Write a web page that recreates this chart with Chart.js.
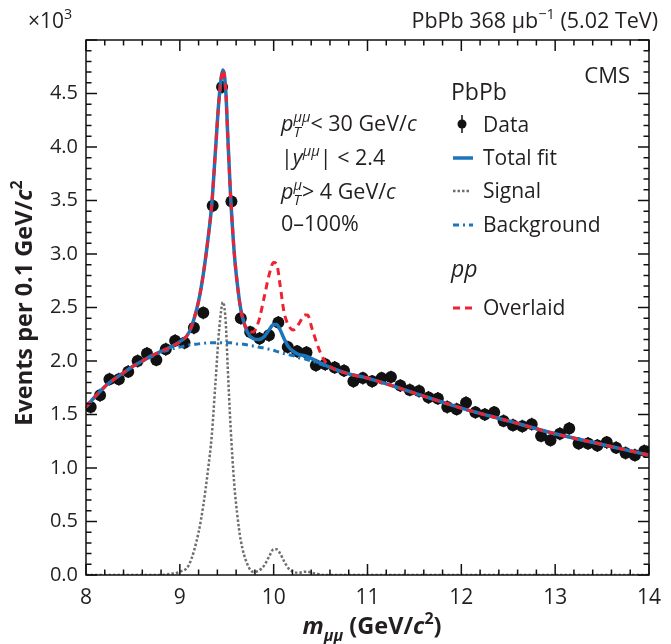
<!DOCTYPE html>
<html>
<head>
<meta charset="utf-8">
<script src="https://cdn.jsdelivr.net/npm/chart.js@4.4.0/dist/chart.umd.min.js"></script>
<style>
  html, body { margin: 0; padding: 0; background: #fff; }
</style>
</head>
<body>
<canvas id="massChart" width="671" height="644"></canvas>
<script>
(function() {

    'use strict';

    // dimuon invariant mass, bin centres (GeV/c^2), 0.1 GeV bins
    var binCenters = [8.05, 8.15, 8.25, 8.35, 8.45, 8.55, 8.65, 8.75, 8.85, 8.95,
        9.05, 9.15, 9.25, 9.35, 9.45, 9.55, 9.65, 9.75, 9.85, 9.95,
        10.05, 10.15, 10.25, 10.35, 10.45, 10.55, 10.65, 10.75, 10.85, 10.95,
        11.05, 11.15, 11.25, 11.35, 11.45, 11.55, 11.65, 11.75, 11.85, 11.95,
        12.05, 12.15, 12.25, 12.35, 12.45, 12.55, 12.65, 12.75, 12.85, 12.95,
        13.05, 13.15, 13.25, 13.35, 13.45, 13.55, 13.65, 13.75, 13.85, 13.95];

    // events per bin (x10^3)
    var eventsData = [1.57, 1.68, 1.83, 1.83, 1.90, 2.00, 2.07, 2.01, 2.11, 2.19,
        2.17, 2.31, 2.45, 3.45, 4.56, 3.49, 2.40, 2.27, 2.21, 2.24,
        2.36, 2.13, 2.09, 2.08, 1.96, 1.97, 1.94, 1.91, 1.81, 1.84,
        1.81, 1.84, 1.85, 1.77, 1.73, 1.72, 1.66, 1.65, 1.57, 1.55,
        1.61, 1.52, 1.50, 1.52, 1.44, 1.40, 1.39, 1.41, 1.30, 1.26,
        1.32, 1.37, 1.23, 1.23, 1.21, 1.24, 1.19, 1.14, 1.12, 1.16];
    var errorHalf = 0.06;
    var binHalf = 0.055;

    // fit curves sampled along mass
    var curveMass = [8.0, 8.1, 8.2, 8.3, 8.4, 8.5, 8.6, 8.7, 8.8, 8.9,
        9.0, 9.1, 9.2, 9.25, 9.3, 9.34, 9.38, 9.42, 9.46, 9.49,
        9.51, 9.54, 9.58, 9.61, 9.65, 9.72, 9.78, 9.84, 9.9, 9.95,
        10.0, 10.03, 10.07, 10.11, 10.16, 10.21, 10.27, 10.33, 10.36, 10.41,
        10.47, 10.53, 10.6, 10.8, 11.0, 11.5, 12.0, 12.5, 13.0, 13.5, 14.0];

    var totalFit = [1.57, 1.67, 1.76, 1.83, 1.89, 1.95, 2.00, 2.05, 2.09, 2.13,
        2.18, 2.27, 2.56, 2.81, 3.14, 3.46, 3.97, 4.47, 4.72, 4.52,
        4.12, 3.56, 3.01, 2.74, 2.48, 2.27, 2.21, 2.20, 2.23, 2.29,
        2.34, 2.34, 2.29, 2.21, 2.13, 2.09, 2.06, 2.05, 2.04, 2.02,
        1.99, 1.97, 1.94, 1.88, 1.84, 1.70, 1.56, 1.44, 1.32, 1.22, 1.12];

    var signalFit = [0, 0, 0, 0, 0, 0, 0, 0, 0, 0.01,
        0.03, 0.10, 0.40, 0.65, 0.98, 1.30, 1.80, 2.30, 2.55, 2.35,
        1.95, 1.40, 0.85, 0.58, 0.32, 0.10, 0.03, 0.04, 0.09, 0.17,
        0.24, 0.24, 0.20, 0.13, 0.06, 0.03, 0.02, 0.03, 0.03, 0.02,
        0.01, 0, 0, 0, 0, 0, 0, 0, 0, 0, 0];

    var backgroundFit = [1.57, 1.67, 1.76, 1.83, 1.89, 1.95, 2.00, 2.04, 2.08, 2.11,
        2.13, 2.15, 2.16, 2.165, 2.17, 2.17, 2.17, 2.17, 2.17, 2.17,
        2.17, 2.17, 2.165, 2.16, 2.16, 2.15, 2.14, 2.13, 2.12, 2.11,
        2.10, 2.09, 2.08, 2.07, 2.06, 2.05, 2.03, 2.02, 2.01, 2.00,
        1.98, 1.96, 1.94, 1.88, 1.84, 1.70, 1.56, 1.44, 1.32, 1.22, 1.12];

    var overlaidFit = [1.57, 1.67, 1.76, 1.83, 1.89, 1.95, 2.00, 2.05, 2.09, 2.13,
        2.18, 2.27, 2.56, 2.81, 3.14, 3.46, 3.97, 4.47, 4.72, 4.52,
        4.12, 3.56, 3.01, 2.74, 2.48, 2.29, 2.27, 2.37, 2.60, 2.80,
        2.92, 2.91, 2.70, 2.46, 2.33, 2.29, 2.35, 2.43, 2.43, 2.30,
        2.14, 2.02, 1.95, 1.88, 1.84, 1.70, 1.56, 1.44, 1.32, 1.22, 1.12];

    var FONT = '"Open Sans"';
    var INK = '#231f20';
    var BLUE = '#1b75bb';
    var RED = '#ec2330';
    var GREY = '#6d6e71';

    function pairs(xs, ys) {
        return xs.map(function(x, i) { return { x: x, y: ys[i] }; });
    }

    function partFont(p, size) {
        var s = p.small ? size * 0.68 : size;
        return (p.i ? 'italic ' : '') + (p.b ? 'bold ' : '') + s + 'px ' + FONT;
    }

    // draws a run of text pieces; pieces may be italic, bold, raised or lowered
    function drawParts(ctx, parts, x, y, size, align) {
        var widths = parts.map(function(p) {
            ctx.font = partFont(p, size);
            return ctx.measureText(p.t).width;
        });
        var total = 0, held = 0;
        parts.forEach(function(p, i) {
            if (p.keep) { held = widths[i]; return; }
            total += Math.max(widths[i], held);
            held = 0;
        });
        var cx = x;
        if (align === 'center') cx = x - total / 2;
        if (align === 'right') cx = x - total;
        held = 0;
        ctx.textBaseline = 'alphabetic';
        ctx.textAlign = 'left';
        parts.forEach(function(p, i) {
            ctx.font = partFont(p, size);
            var dy = p.sup ? -size * 0.42 : (p.sub ? size * 0.28 : 0);
            ctx.fillText(p.t, cx, y + dy);
            if (p.keep) { held = widths[i]; return; }
            cx += Math.max(widths[i], held);
            held = 0;
        });
    }

    function sampleLine(ctx, x0, x1, y, color, width, dash) {
        ctx.save();
        ctx.strokeStyle = color;
        ctx.lineWidth = width;
        ctx.setLineDash(dash);
        ctx.beginPath();
        ctx.moveTo(x0, y);
        ctx.lineTo(x1, y);
        ctx.stroke();
        ctx.restore();
    }

    var errorBars = {
        id: 'errorBars',
        beforeDatasetsDraw: function(chart) {
            var ctx = chart.ctx, xs = chart.scales.x, ys = chart.scales.y;
            ctx.save();
            ctx.strokeStyle = '#111';
            ctx.lineWidth = 1.5;
            ctx.beginPath();
            binCenters.forEach(function(m, i) {
                var px = xs.getPixelForValue(m);
                var py = ys.getPixelForValue(eventsData[i]);
                ctx.moveTo(px, ys.getPixelForValue(eventsData[i] - errorHalf));
                ctx.lineTo(px, ys.getPixelForValue(eventsData[i] + errorHalf));
                ctx.moveTo(xs.getPixelForValue(m - binHalf), py);
                ctx.lineTo(xs.getPixelForValue(m + binHalf), py);
            });
            ctx.stroke();
            ctx.restore();
        }
    };

    var frame = {
        id: 'frame',
        afterDraw: function(chart) {
            var ctx = chart.ctx, a = chart.chartArea, xs = chart.scales.x, ys = chart.scales.y;
            var i, p, len;
            ctx.save();
            ctx.strokeStyle = '#111';
            ctx.lineWidth = 1.5;
            ctx.strokeRect(a.left, a.top, a.right - a.left, a.bottom - a.top);

            // inward ticks on all four sides
            ctx.beginPath();
            for (i = 0; i <= 30; i++) {
                p = xs.getPixelForValue(8 + i * 0.2);
                len = i % 5 === 0 ? 11 : 5.5;
                ctx.moveTo(p, a.bottom); ctx.lineTo(p, a.bottom - len);
                ctx.moveTo(p, a.top); ctx.lineTo(p, a.top + len);
            }
            for (i = 0; i <= 50; i++) {
                p = ys.getPixelForValue(i * 0.1);
                len = i % 5 === 0 ? 11 : 5.5;
                ctx.moveTo(a.left, p); ctx.lineTo(a.left + len, p);
                ctx.moveTo(a.right, p); ctx.lineTo(a.right - len, p);
            }
            ctx.stroke();

            ctx.fillStyle = INK;

            // header
            drawParts(ctx, [{ t: '\u00d710' }, { t: '3', sup: true, small: true }], 28, 28, 21, 'left');
            drawParts(ctx, [{ t: 'PbPb 368 \u03bcb' }, { t: '\u22121', sup: true, small: true }, { t: ' (5.02 TeV)' }],
                658, 28, 21.5, 'right');

            // axis titles
            drawParts(ctx, [{ t: 'm', b: true, i: true }, { t: '\u03bc\u03bc', b: true, i: true, sub: true, small: true },
                { t: ' (GeV/', b: true }, { t: 'c', b: true, i: true }, { t: '2', b: true, sup: true, small: true },
                { t: ')', b: true }], 372, 634, 23.5, 'center');
            ctx.save();
            ctx.translate(23, 303);
            ctx.rotate(-Math.PI / 2);
            drawParts(ctx, [{ t: 'Events per 0.1 GeV/', b: true }, { t: 'c', b: true, i: true },
                { t: '2', b: true, sup: true, small: true }], 0, 8.5, 23.5, 'center');
            ctx.restore();

            // selection
            drawParts(ctx, [{ t: 'p', i: true }, { t: 'T', i: true, sub: true, small: true, keep: true },
                { t: '\u03bc\u03bc', i: true, sup: true, small: true }, { t: '< 30 GeV/' }, { t: 'c', i: true }],
                281, 131, 21.5, 'left');
            drawParts(ctx, [{ t: '|' }, { t: 'y', i: true }, { t: '\u03bc\u03bc', i: true, sup: true, small: true },
                { t: '| < 2.4' }], 281, 165, 21.5, 'left');
            drawParts(ctx, [{ t: 'p', i: true }, { t: 'T', i: true, sub: true, small: true, keep: true },
                { t: '\u03bc', i: true, sup: true, small: true }, { t: '> 4 GeV/' }, { t: 'c', i: true }],
                281, 199, 21.5, 'left');
            drawParts(ctx, [{ t: '0\u2013100%' }], 281, 231, 21.5, 'left');

            // experiment and legend
            drawParts(ctx, [{ t: 'CMS' }], 630, 83, 22, 'right');
            drawParts(ctx, [{ t: 'PbPb' }], 451, 100, 23, 'left');
            drawParts(ctx, [{ t: 'Data' }], 483, 132, 21, 'left');
            drawParts(ctx, [{ t: 'Total fit' }], 483, 165, 21, 'left');
            drawParts(ctx, [{ t: 'Signal' }], 483, 198, 21, 'left');
            drawParts(ctx, [{ t: 'Background' }], 483, 232, 21, 'left');
            drawParts(ctx, [{ t: 'pp', i: true }], 451, 277, 23, 'left');
            drawParts(ctx, [{ t: 'Overlaid' }], 483, 315, 21, 'left');

            ctx.strokeStyle = '#111';
            ctx.lineWidth = 1.5;
            ctx.beginPath();
            ctx.moveTo(462, 115); ctx.lineTo(462, 133);
            ctx.stroke();
            ctx.fillStyle = '#111';
            ctx.beginPath();
            ctx.arc(462, 124, 4.5, 0, Math.PI * 2);
            ctx.fill();
            sampleLine(ctx, 453, 473, 158, BLUE, 3.5, []);
            sampleLine(ctx, 453, 471, 191, GREY, 2.5, [2.5, 2]);
            sampleLine(ctx, 453, 473, 225, BLUE, 3, [6, 4, 2, 4]);
            sampleLine(ctx, 453, 474, 308, RED, 3, [7, 5]);

            ctx.restore();
        }
    };

    var curve = {
        pointRadius: 0,
        fill: false,
        cubicInterpolationMode: 'monotone'
    };

    new Chart(document.getElementById('massChart'), {
        type: 'line',
        data: {
            datasets: [
                Object.assign({ label: 'Overlaid', data: pairs(curveMass, overlaidFit),
                    borderColor: RED, borderWidth: 3, borderDash: [7, 5], order: 0 }, curve),
                Object.assign({ label: 'Total fit', data: pairs(curveMass, totalFit),
                    borderColor: BLUE, borderWidth: 3.5, order: 1 }, curve),
                Object.assign({ label: 'Background', data: pairs(curveMass, backgroundFit),
                    borderColor: BLUE, borderWidth: 3, borderDash: [6, 4, 2, 4], order: 2 }, curve),
                Object.assign({ label: 'Signal', data: pairs(curveMass, signalFit),
                    borderColor: GREY, borderWidth: 2.5, borderDash: [2.5, 2], order: 3 }, curve),
                {
                    label: 'Data',
                    data: pairs(binCenters, eventsData),
                    showLine: false,
                    pointRadius: 6,
                    pointBackgroundColor: '#111',
                    pointBorderWidth: 0,
                    order: 4
                }
            ]
        },
        options: {
            responsive: false,
            animation: false,
            layout: { padding: { top: 40, right: 12, left: 0, bottom: 0 } },
            plugins: { legend: { display: false }, tooltip: { enabled: false } },
            scales: {
                x: {
                    type: 'linear',
                    min: 8,
                    max: 14,
                    grid: { display: false, drawTicks: false },
                    border: { display: false },
                    ticks: { stepSize: 1, padding: 10, color: INK, font: { family: FONT, size: 21 } },
                    afterFit: function(scale) { scale.height = 69; }
                },
                y: {
                    min: 0,
                    max: 5,
                    grid: { display: false, drawTicks: false },
                    border: { display: false },
                    ticks: {
                        stepSize: 0.5,
                        padding: 8,
                        color: INK,
                        font: { family: FONT, size: 20 },
                        callback: function(v) { return v >= 5 ? '' : v.toFixed(1); }
                    },
                    afterFit: function(scale) { scale.width = 86; }
                }
            }
        },
        plugins: [errorBars, frame]
    });

})();
</script>
</body>
</html>
